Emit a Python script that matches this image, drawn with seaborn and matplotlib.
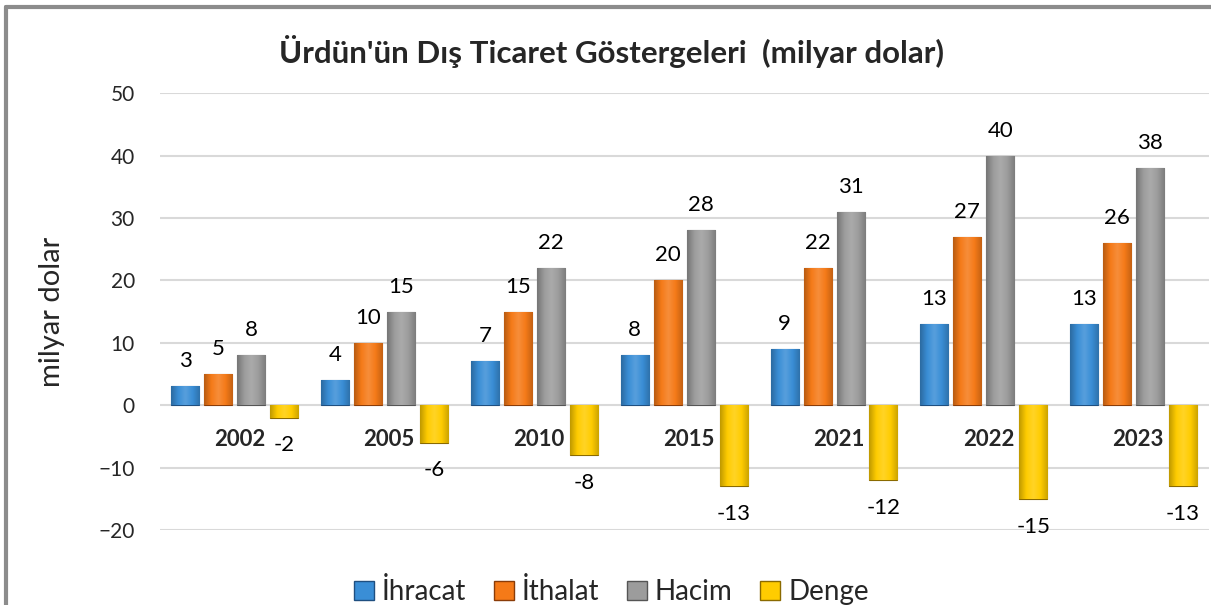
import matplotlib
matplotlib.use('Agg')
import matplotlib.pyplot as plt
import seaborn as sns
import pandas as pd
import numpy as np
from matplotlib.lines import Line2D
from matplotlib.patches import Patch
from matplotlib.colors import LinearSegmentedColormap, to_rgb

# veriler (milyar dolar)
years = ['2002', '2005', '2010', '2015', '2021', '2022', '2023']
ihracat = [3, 4, 7, 8, 9, 13, 13]
ithalat = [5, 10, 15, 20, 22, 27, 26]
hacim = [8, 15, 22, 28, 31, 40, 38]
denge = [-2, -6, -8, -13, -12, -15, -13]

series = ['İhracat', 'İthalat', 'Hacim', 'Denge']
colors = ['#3a8ed6', '#f57a18', '#9c9c9c', '#ffcc00']
edges = ['#1f4f80', '#8a3c08', '#555555', '#8a6a00']

df = pd.DataFrame({
    'yil': years * 4,
    'seri': [s for s in series for _ in years],
    'deger': ihracat + ithalat + hacim + denge,
})

sns.set_style('white')
plt.rcParams['font.family'] = ['Lato', 'DejaVu Sans']

fig = plt.figure(figsize=(12.11, 6.05), dpi=100)
ax = fig.add_axes([0.132, 0.124, 0.866, 0.722])

sns.barplot(data=df, x='yil', y='deger', hue='seri', order=years, hue_order=series,
            palette=colors, saturation=1, width=0.88, gap=0.15, ax=ax, legend=False)


def shade(c, f):
    r = np.array(to_rgb(c))
    if f < 1:
        return tuple(r * f)
    return tuple(r + (1 - r) * (f - 1))


# kenar renkleri, hafif gradyan ve veri etiketleri
for cont, c, ec in zip(ax.containers, colors, edges):
    cmap = LinearSegmentedColormap.from_list(
        'g', [shade(c, 0.75), shade(c, 1.0), shade(c, 1.15), shade(c, 1.0), shade(c, 0.8)])
    grad = np.linspace(0, 1, 64).reshape(1, -1)
    for p in cont:
        p.set_edgecolor(ec)
        p.set_linewidth(0.8)
        x0, w = p.get_x(), p.get_width()
        y0, h = p.get_y(), p.get_height()
        im = ax.imshow(grad, extent=[x0, x0 + w, min(y0, y0 + h), max(y0, y0 + h)],
                       aspect='auto', cmap=cmap, zorder=p.get_zorder() + 0.1,
                       interpolation='bicubic')
        im.set_clip_path(p)
        v = h
        x = x0 + w / 2
        off = 18 if v >= 0 else -20
        ax.annotate(f'{v:.0f}', (x, v), xytext=(0, off), textcoords='offset points',
                    ha='center', va='center', fontsize=16, color='black')

ax.set_ylim(-20, 50)
ax.set_xlim(-0.5, len(years) - 0.5)
ax.set_aspect('auto')
ax.set_yticks(range(-20, 51, 10))
ax.yaxis.grid(True, color='#d9d9d9', linewidth=1.5)
ax.set_axisbelow(True)
for s in ax.spines.values():
    s.set_visible(False)
ax.tick_params(axis='y', labelsize=15, length=0, pad=18)
ax.set_xticks([])
ax.set_xlabel('')
ax.set_ylabel('milyar dolar', fontsize=21, labelpad=24)

# yil etiketleri
for i, y in enumerate(years):
    ax.text(i + 0.03, -5.5, y, ha='center', va='center', fontsize=16, fontweight='bold')

fig.text(0.505, 0.915, "Ürdün'ün Dış Ticaret Göstergeleri  (milyar dolar)",
         ha='center', va='center', fontsize=22.5, fontweight='bold')

handles = [Patch(facecolor=c, edgecolor=e) for c, e in zip(colors, edges)]
fig.legend(handles, series, loc='center', bbox_to_anchor=(0.505, 0.022), ncol=4,
           frameon=False, fontsize=20, handlelength=0.7, handleheight=0.7,
           handletextpad=0.3, columnspacing=1.0)

# dis cerceve
fig.add_artist(Line2D([0.005, 0.005], [0.0, 0.988], transform=fig.transFigure,
                      color='#8c8c8c', linewidth=3))
fig.add_artist(Line2D([0.005, 1.0], [0.988, 0.988], transform=fig.transFigure,
                      color='#8c8c8c', linewidth=3))

fig.savefig('out.png', dpi=100)
